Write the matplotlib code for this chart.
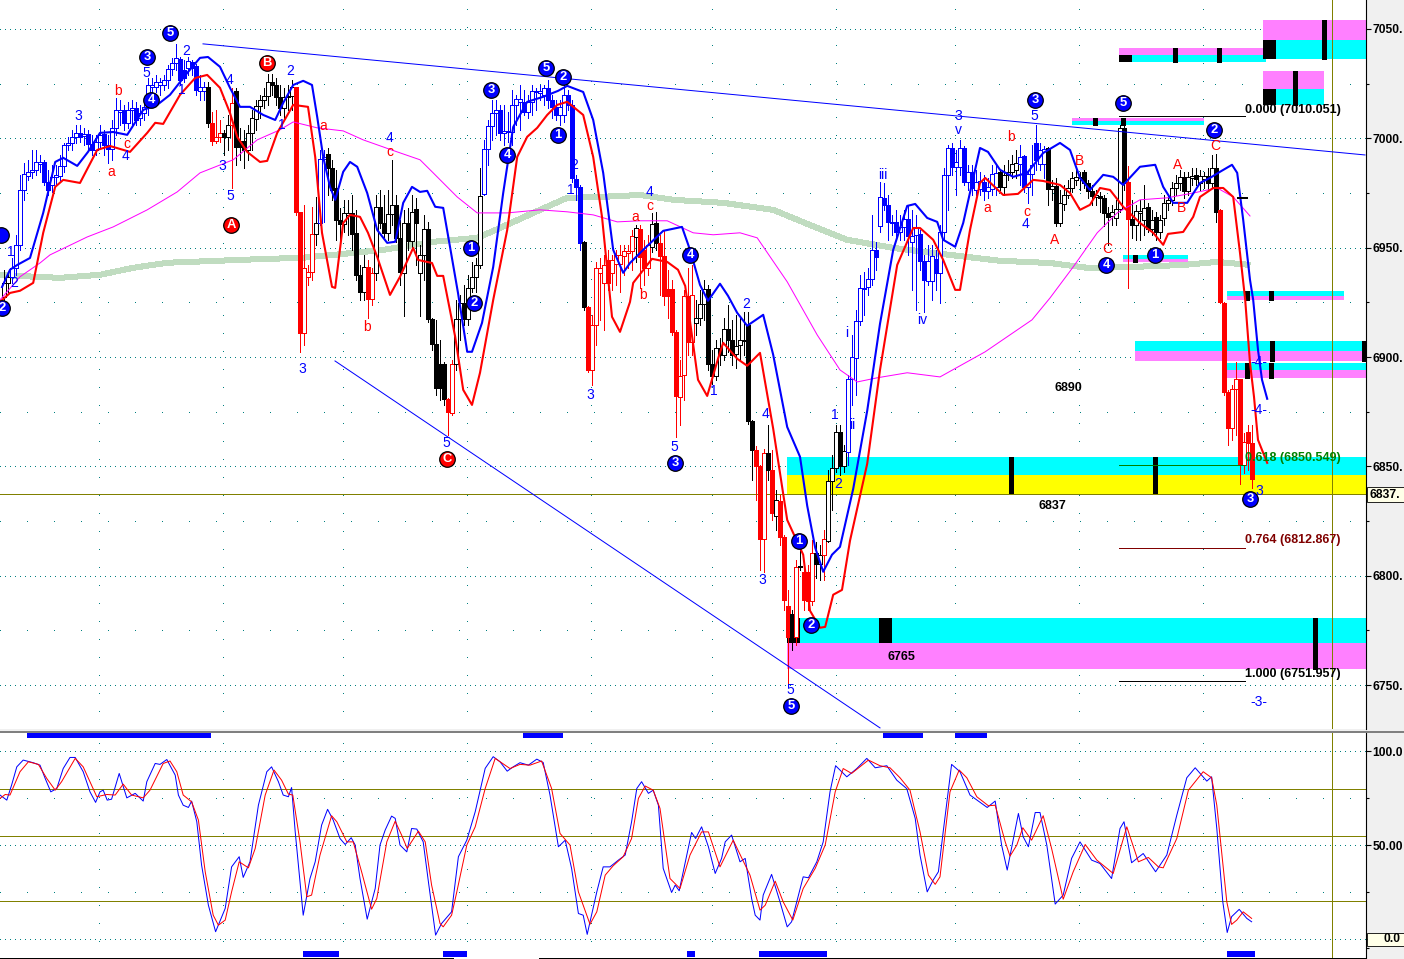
import matplotlib
matplotlib.use("Agg")
import matplotlib.pyplot as plt
from matplotlib.lines import Line2D
from matplotlib.patches import Rectangle

W, H = 1404, 959
plt.rcParams['font.family'] = ['Liberation Sans', 'DejaVu Sans']

# ---- candle data (price) ----
body_top = [
6933.9,6936.7,6940.8,6951.3,6976.4,6983.7,6984.7,6985.6,6989.2,6989.2,
6989.2,6980.1,6982.4,6983.3,6987.4,6997.0,6997.9,7000.7,7002.5,7002.5,
7002.0,7002.0,6997.5,6998.4,7001.6,7002.0,6997.0,7004.8,7013.0,7013.0,
7013.0,7013.0,7013.9,7013.9,7011.6,7014.4,7024.4,7024.4,7025.8,7025.8,
7026.7,7031.8,7034.5,7036.8,7036.3,7031.3,7035.4,7035.0,7033.1,7023.5,
7023.5,7023.5,7007.1,7000.7,7002.5,7002.5,7006.2,7016.2,7021.7,6998.8,
6998.8,7002.5,7009.3,7014.8,7017.6,7019.4,7025.8,7025.8,7024.4,7019.0,
7019.0,7019.4,7023.5,7023.5,6966.4,6940.8,6938.9,6956.3,6961.3,6990.6,
6991.5,6992.9,6986.5,6977.3,6962.7,6965.9,6965.9,6965.9,6956.8,6937.6,
6941.2,6941.2,6938.5,6968.7,6968.7,6961.3,6965.5,6969.6,6969.6,6954.5,
6961.3,6961.3,6966.4,6967.7,6946.7,6958.6,6958.6,6917.4,6906.0,6896.9,
6896.9,6880.9,6896.9,6917.4,6924.8,6924.8,6931.6,6936.7,6942.1,6973.7,
6995.2,7005.7,7011.6,7013.0,7013.0,7003.4,7003.4,7015.3,7018.0,7018.0,
7016.7,7016.7,7021.7,7021.7,7021.7,7023.1,7023.1,7017.6,7014.4,7014.4,
7019.9,7019.9,7015.3,6981.5,6977.8,6952.7,6922.9,6914.7,6940.8,6940.8,
6942.1,6944.4,6944.4,6946.7,6946.7,6948.5,6948.5,6955.4,6959.0,6958.6,
6949.0,6951.3,6960.9,6961.3,6952.2,6946.3,6931.2,6931.2,6911.5,6891.4,
6928.0,6928.0,6928.4,6917.9,6924.3,6931.2,6931.2,6896.9,6904.2,6904.2,
6912.9,6912.9,6907.9,6905.1,6907.9,6907.9,6914.7,6870.8,6857.5,6850.2,
6856.2,6856.2,6848.4,6834.7,6834.2,6817.8,6786.2,6782.6,6804.0,6804.5,
6801.8,6801.8,6810.5,6810.5,6809.6,6816.9,6843.4,6849.3,6865.8,6865.8,
6857.1,6890.0,6900.1,6916.5,6931.6,6931.6,6935.7,6949.0,6949.0,6973.2,
6972.8,6969.6,6961.8,6961.8,6959.5,6963.2,6963.2,6955.4,6959.0,6956.3,
6944.0,6944.0,6946.3,6944.9,6957.2,6983.3,6995.6,6995.6,6989.2,6995.6,
6995.6,6984.7,6984.7,6980.1,6980.5,6980.1,6977.8,6983.7,6984.2,6984.7,
6983.3,6984.7,6988.3,6988.8,6991.5,6992.0,6983.7,6987.9,6997.9,6994.7,
6995.2,6995.6,6978.3,6978.3,6970.5,6974.1,6977.3,6981.9,6982.4,6982.4,
6984.7,6979.6,6976.0,6974.1,6973.7,6972.8,6965.9,6966.4,6967.7,7004.8,
7004.8,6980.1,6963.2,6966.8,6966.8,6968.2,6968.7,6962.7,6964.1,6962.7,
6970.5,6971.9,6977.3,6979.6,6982.4,6982.4,6982.4,6982.8,6983.3,6982.8,
6982.8,6982.8,6986.5,6986.5,6967.3,6924.8,6884.1,6885.4,6890.0,6890.0,
6861.2,6865.8,6860.8]
body_bottom = [
6927.5,6933.9,6936.7,6940.8,6951.3,6976.4,6982.8,6984.7,6985.6,6988.3,
6980.1,6976.4,6978.7,6982.4,6982.8,6987.4,6997.0,6997.9,7000.7,7000.7,
7001.1,6997.5,6994.7,6994.7,6998.4,6997.0,6995.2,6995.2,7004.8,7012.1,
7007.1,7007.1,7013.0,7008.4,7009.3,7011.6,7014.4,7023.5,7023.5,7024.4,
7024.4,7026.7,7031.8,7034.5,7026.7,7027.6,7032.2,7032.2,7022.2,7021.7,
7021.7,7007.1,6998.8,6998.8,7000.7,7000.7,7000.7,7006.2,6996.1,6996.1,
6994.7,6994.7,7002.5,7008.9,7014.8,7017.6,7019.4,7024.4,7019.0,7013.9,
7013.9,7019.0,7019.4,6966.4,6911.0,6911.0,6936.7,6938.9,6956.3,6961.3,
6990.6,6986.5,6976.4,6962.7,6960.9,6960.9,6965.0,6956.3,6937.6,6929.8,
6929.8,6926.6,6926.6,6938.5,6961.3,6956.8,6956.8,6965.5,6954.5,6938.9,
6938.5,6953.1,6953.1,6961.3,6938.5,6946.7,6917.4,6906.0,6885.9,6885.9,
6880.9,6874.9,6874.5,6896.9,6917.4,6917.4,6917.4,6931.6,6936.7,6942.1,
6974.6,6995.2,7005.7,7011.6,7002.5,7002.5,7003.0,7003.0,7015.3,7016.7,
7012.1,7012.1,7016.7,7021.2,7020.8,7019.9,7017.6,7014.4,7010.7,7010.7,
7010.7,7015.3,6981.9,6977.8,6952.2,6922.9,6894.1,6894.1,6914.7,6938.5,
6933.9,6933.9,6938.5,6942.6,6942.6,6946.3,6947.6,6948.5,6954.9,6945.8,
6940.8,6940.8,6950.4,6952.2,6946.3,6928.0,6928.0,6911.5,6882.2,6881.8,
6891.8,6906.9,6906.9,6915.6,6917.9,6924.3,6896.9,6891.4,6891.4,6901.0,
6901.0,6907.9,6901.0,6901.4,6905.6,6907.4,6870.8,6857.5,6850.2,6816.9,
6816.9,6848.4,6828.8,6827.4,6817.8,6789.0,6772.1,6772.1,6772.1,6804.0,
6789.0,6788.5,6788.5,6805.4,6805.4,6809.6,6816.0,6843.4,6849.3,6850.2,
6850.2,6856.6,6890.0,6899.6,6916.5,6931.2,6932.1,6935.7,6945.8,6960.0,
6969.6,6961.8,6961.3,6957.2,6957.2,6959.5,6955.4,6952.7,6955.9,6944.0,
6935.3,6934.8,6934.8,6938.5,6938.5,6957.2,6983.3,6987.0,6987.0,6987.0,
6980.1,6980.1,6977.3,6976.4,6976.9,6976.0,6976.0,6976.9,6977.8,6977.8,
6977.8,6983.3,6984.7,6985.6,6988.3,6977.8,6977.8,6983.7,6990.1,6988.3,
6988.3,6976.9,6976.9,6961.3,6961.3,6970.0,6974.1,6977.3,6981.0,6981.9,
6979.6,6976.0,6973.7,6973.2,6972.8,6965.9,6964.1,6964.5,6963.6,6967.7,
6979.6,6963.2,6960.4,6960.4,6965.9,6962.7,6958.6,6958.6,6957.2,6957.2,
6963.6,6970.5,6971.9,6977.3,6979.6,6976.0,6976.0,6981.9,6981.5,6979.6,
6981.5,6979.6,6979.6,6966.4,6925.2,6884.1,6867.6,6867.6,6885.4,6850.7,
6850.7,6860.8,6844.3]
highs = [
6939.9,6938.9,6945.3,6955.9,6983.3,6988.8,6990.2,6994.7,6994.7,6992.4,
6990.2,6985.6,6987.9,6987.9,6992.4,6997.9,7000.7,7003.9,7006.2,7006.2,
7004.8,7003.9,7001.6,7001.6,7006.2,7003.9,7001.6,7008.4,7018.5,7017.6,
7015.3,7016.7,7017.6,7016.7,7015.3,7018.5,7027.6,7027.6,7029.0,7027.6,
7029.0,7033.6,7036.8,7043.2,7037.2,7035.9,7037.2,7035.9,7034.0,7029.0,
7025.8,7025.8,7012.1,7013.0,7008.4,7003.9,7010.7,7023.1,7023.1,7004.8,
7003.9,7006.2,7013.0,7017.6,7019.9,7023.1,7029.5,7029.5,7027.6,7024.4,
7023.1,7024.4,7026.7,7023.5,6966.4,6969.6,6942.1,6968.7,6973.2,6994.7,
6994.7,6995.6,6990.2,6985.6,6968.2,6971.9,6971.9,6974.1,6967.3,6942.1,
6946.7,6944.4,6940.8,6974.1,6976.4,6974.1,6976.4,6990.2,6974.1,6962.7,
6967.3,6968.2,6974.1,6972.8,6951.3,6965.0,6961.8,6917.9,6917.0,6907.9,
6897.8,6881.3,6898.7,6926.1,6928.4,6933.0,6937.6,6943.5,6945.3,6986.5,
6999.3,7008.4,7017.6,7017.6,7015.3,7015.3,7012.1,7022.2,7019.9,7024.4,
7022.2,7019.9,7024.4,7023.1,7024.4,7024.4,7026.7,7019.9,7017.6,7017.6,
7024.4,7022.2,7017.6,6983.3,6978.7,6953.1,6923.4,6919.3,6943.5,6945.3,
6946.7,6949.0,6946.7,6949.0,6951.3,6951.3,6951.3,6958.1,6960.4,6960.4,
6953.6,6955.9,6965.9,6966.4,6955.9,6958.1,6939.9,6935.3,6912.4,6898.7,
6930.7,6940.8,6942.1,6926.1,6930.7,6935.3,6933.0,6903.3,6907.8,6908.8,
6917.9,6923.8,6917.0,6919.3,6917.9,6920.6,6920.6,6871.3,6859.4,6850.7,
6858.0,6869.0,6857.5,6839.3,6837.0,6818.7,6793.5,6784.4,6807.3,6811.8,
6805.0,6805.0,6816.4,6815.5,6814.1,6821.0,6848.4,6855.3,6869.0,6869.0,
6859.8,6891.8,6910.1,6921.6,6937.6,6938.9,6940.8,6965.0,6952.7,6980.1,
6979.6,6974.1,6965.0,6967.3,6965.0,6967.3,6969.6,6967.3,6965.0,6958.1,
6946.7,6951.3,6951.3,6949.0,6960.4,6986.5,6997.0,6997.9,6994.7,6999.3,
6996.5,6987.9,6987.9,6985.6,6984.7,6983.3,6981.9,6987.9,6987.9,6985.6,
6987.9,6990.2,6992.4,6994.7,6997.0,6992.4,6985.6,6997.0,7006.2,6997.9,
6996.5,6996.1,6981.0,6981.9,6976.4,6978.7,6981.0,6984.7,6986.5,6984.7,
6985.6,6981.0,6978.7,6976.4,6975.5,6974.1,6968.7,6969.6,6971.9,7006.2,
7009.3,6987.4,6971.9,6969.6,6971.9,6978.7,6970.5,6967.3,6966.4,6965.0,
6974.1,6974.1,6980.1,6983.3,6985.6,6984.7,6984.7,6986.5,6986.5,6985.6,
6984.7,6986.5,6992.4,6992.9,6967.7,6925.2,6885.0,6887.3,6897.8,6890.0,
6865.3,6869.0,6869.0]
lows = [
6926.1,6929.8,6933.9,6937.6,6949.0,6971.9,6981.0,6981.9,6983.3,6984.7,
6978.7,6974.1,6975.5,6978.7,6981.0,6984.7,6994.7,6994.7,6997.9,6998.4,
6997.0,6994.7,6992.4,6992.4,6995.6,6992.4,6988.8,6990.2,7001.6,7006.2,
7003.9,7004.8,7006.2,7006.2,7006.2,7008.4,7010.7,7018.5,7021.2,7019.9,
7022.2,7023.1,7029.0,7031.3,7024.4,7025.8,7029.0,7029.0,7019.9,7017.6,
7017.6,7005.2,6997.0,6997.9,6998.4,6992.4,6994.7,6977.3,6987.9,6990.2,
6986.5,6990.2,6994.7,7003.9,7009.3,7013.9,7015.3,7019.9,7015.3,7010.7,
7009.3,7013.0,7013.0,6965.0,6902.4,6905.6,6933.0,6935.3,6951.3,6960.4,
6961.8,6974.1,6971.9,6953.6,6949.9,6957.2,6955.9,6949.0,6935.3,6926.1,
6926.1,6917.9,6923.8,6935.3,6959.0,6954.9,6953.6,6960.4,6952.7,6933.0,
6918.8,6949.0,6949.0,6942.1,6918.8,6935.3,6916.1,6903.3,6882.7,6880.4,
6878.1,6864.4,6873.6,6894.1,6907.8,6914.7,6914.7,6929.8,6929.8,6940.8,
6974.1,6987.9,6999.3,7001.6,6999.3,6997.0,6998.4,6997.0,7006.2,7003.9,
7010.7,7009.3,7010.7,7013.0,7017.6,7015.3,7013.9,7009.3,7008.4,7006.2,
7007.5,7013.0,6980.1,6971.9,6949.0,6921.6,6893.2,6887.3,6905.6,6917.0,
6912.4,6930.7,6930.7,6933.0,6929.8,6937.6,6940.8,6939.9,6943.5,6931.6,
6933.0,6937.6,6948.1,6949.0,6928.4,6923.8,6917.9,6910.1,6863.5,6869.0,
6880.4,6901.0,6901.0,6910.1,6914.7,6917.0,6894.1,6887.7,6889.6,6896.4,
6898.7,6902.4,6896.4,6895.0,6898.7,6901.0,6869.4,6843.8,6834.7,6802.7,
6801.8,6843.8,6825.5,6821.0,6814.1,6784.4,6751.0,6766.1,6768.4,6802.7,
6784.4,6784.4,6786.7,6799.0,6798.1,6798.1,6815.5,6830.1,6847.5,6846.1,
6847.5,6850.7,6878.1,6882.7,6914.7,6919.3,6928.4,6933.0,6939.9,6957.2,
6967.3,6953.6,6955.9,6953.6,6953.6,6953.6,6946.7,6930.7,6921.6,6939.9,
6920.6,6933.0,6926.1,6930.7,6924.8,6953.6,6967.3,6983.3,6974.1,6983.3,
6978.7,6976.4,6974.1,6974.1,6974.1,6971.9,6972.8,6974.1,6974.1,6976.4,
6974.1,6981.0,6981.9,6981.9,6978.7,6975.5,6970.5,6974.1,6985.6,6985.6,
6981.9,6969.6,6971.9,6960.0,6960.0,6967.3,6972.8,6975.5,6978.7,6976.4,
6977.3,6972.8,6969.6,6969.6,6966.4,6960.0,6951.3,6960.4,6960.4,6966.4,
6976.4,6931.6,6954.5,6953.6,6953.6,6955.9,6957.2,6955.9,6953.6,6954.5,
6960.4,6967.3,6969.6,6974.1,6976.4,6972.8,6974.1,6978.7,6978.7,6976.4,
6977.3,6976.4,6977.3,6961.8,6924.8,6882.7,6859.8,6862.1,6864.4,6842.0,
6847.0,6848.4,6840.2]
filled_bars = [11,12,20,22,23,26,27,31,34,45,46,48,49,52,53,56,59,60,61,68,69,70,
 74,75,82,83,84,85,88,89,90,92,95,96,99,100,102,104,107,108,109,110,111,112,116,
 125,131,137,138,139,142,143,144,145,146,147,152,160,161,164,165,166,167,168,169,
 172,177,178,180,182,183,187,188,189,190,192,193,195,196,197,198,201,202,204,210,
 219,221,222,223,224,227,230,231,234,238,241,243,246,250,256,259,262,264,271,272,
 273,275,276,277,281,282,283,287,289,296,299,302,304,305,306,307,310,312,313]
blue_runs = [(3,51),(80,81),(121,145),(212,249),(255,261)]
red_runs = [(53,55),(58,58),(74,78),(92,93),(112,113),(147,158),(160,162),(165,173),
 (189,191),(193,193),(195,197),(199,199),(201,203),(206,206),(282,282),(305,313)]

# ---- band indicators ----
upper_x = [0.5,2.5,4.3,7.5,10.8,13.8,15.8,19.3,22,25,28.3,31.8,35.8,39.3,42.5,46.8,50,52,55,57.5,60,62.5,65.8,68.8,70.8,73.3,75.8,78,79.3,80.8,82.5,83.8,85.8,87.5,89.3,91.8,94.3,96.8,98.8,100.8,103,105,106.8,108.8,110.8,112.5,114.5,116.8,118,120.5,123.3,125.8,128.3,131.8,135.8,139.5,141.8,145.8,148.3,150.8,153.3,155.8,157.5,160.8,165.8,170.5,172.5,175,177,180,182,184.3,186.8,190.8,193.3,196.8,200,201.8,203.8,205.8,208,210,213.3,216.8,220,223.3,226.8,228.8,231.8,234.3,235.8,238.8,240.8,245,247,250,253.3,256.8,260.8,265,267.5,270,272.5,275.8,278.3,280.8,285,288.8,290.8,293.3,296.8,300,302.5,305,308,309.3,310.8,312.5,313.3,314.5,315.5,316.8]
upper_y = [6932,6939.9,6942.1,6945.3,6965.9,6989.2,6991.1,6987.4,6993.8,7002.5,7002.9,7001.6,7013,7015.3,7019.9,7029.9,7036.8,7037.2,7032.7,7023.1,7014.4,7014.4,7010.7,7008.4,7016.2,7024.4,7026.3,7024.4,7009.8,6991.5,6977.8,6971.9,6984.7,6989.2,6987,6975,6958.1,6952.2,6952.7,6970.5,6977.8,6975.5,6976,6968.7,6968.2,6950.4,6929.3,6902.4,6902.4,6915.6,6941.2,6975,7005.2,7016.7,7019,7021.7,7024,7021.2,7008.4,6984.2,6949,6938.5,6943,6949,6957.7,6959.5,6949,6933,6925.7,6933.5,6928,6920.2,6914.3,6919.3,6901,6868,6854.4,6832,6812.8,6801.8,6809.6,6813.2,6839.7,6875.4,6915.2,6949,6969.1,6970,6963.6,6961.8,6953.6,6950.4,6961.3,6995.6,6993.8,6985.6,6982.4,6984.2,6993.3,6997.9,6994.7,6981.9,6976.4,6983.3,6982.4,6978.7,6987,6987.9,6977.8,6970.5,6970.5,6979.6,6981.9,6984.7,6987.9,6984.2,6962.7,6935.3,6926.1,6903.3,6889.6,6880.9]
lower_x = [0,2.5,5,8.3,10.8,13.8,15.8,20,24.3,27.5,32.5,36.8,38.8,40.8,45,48.8,51.8,55,57.5,59.3,61.8,65,66.8,69.3,73.3,77,78.8,80.5,83,83.8,85.8,87.5,90,92,94.3,97.5,100,103.3,104.5,108,109.3,110.8,113.8,115.8,118,120,123.3,126.8,129.3,131.8,134.3,136.8,139.3,141.8,145.8,148.3,150.5,153,155,157.5,158.3,163,166.8,169.5,171.3,174.5,176.8,179.5,180.8,184.3,186.8,190,193.3,196.8,200.8,202.5,205,206.3,208.3,210.5,212.5,216.8,220,224.3,228.3,230,233.3,235.8,238.8,240,242.5,245,246.3,250.8,254.5,258.3,260.8,265,267.5,270,272.5,275,277.5,280.8,285,288.3,290.8,292,295.8,298.3,300,303.3,305.8,308.3,310,311.3,312.5,313.5,314.5,316.8]
lower_y = [6925.2,6929.3,6930.3,6933.9,6956.8,6977.8,6981,6979.6,6994.7,6996.5,6993.8,7002.5,7007.1,7006.6,7019.9,7027.6,7029,7023.1,7011.6,7000.7,6993.8,6989.2,6989.7,7002.5,7015.3,7014.4,6991.5,6956.8,6932.1,6931.6,6961.3,6965,6964.1,6956.8,6945.8,6928.4,6936.7,6949.9,6944.4,6943,6937.1,6937.1,6909.2,6885,6878.1,6892.8,6926.1,6958.1,6991.5,7000.7,7004.8,7010.7,7015.3,7016.7,7010.7,6991.5,6964.1,6918.4,6911.5,6925.2,6933.9,6944.9,6943.5,6939.9,6932.5,6889.6,6882.2,6899.2,6906.5,6899.2,6896,6901.9,6867.2,6825.5,6809.6,6784,6776.2,6776.6,6791.3,6793.5,6816,6851.2,6894.1,6942.1,6959,6959,6953.6,6944.4,6930.7,6930.7,6958.1,6979.6,6981.9,6974.1,6974.6,6981,6980.5,6978.7,6975,6967.3,6969.6,6977.3,6976.4,6968.7,6961.3,6956.8,6951.3,6956.3,6957.2,6964.1,6973.2,6977.3,6977.3,6973.2,6947.6,6926.1,6897.3,6881.8,6862.1,6851.6]
magenta_x = [0,5,10,12.5,21.8,28.3,36.8,44.3,50,58.3,64.3,70,73.3,79.3,85.8,90.8,99.3,105,108.3,114.3,119.3,126.8,135,141.8,148.3,154.3,160,166.8,173.3,178.3,185,189.3,196.8,204.3,210,214.3,219.3,226.8,235,246.3,258,262.5,268.3,274.3,279.3,285,291.8,298.3,304.3,308.3,312.5]
magenta_y = [6926.1,6936.7,6943,6946.7,6954.9,6959.5,6967.3,6975.5,6984.2,6990.2,6999.3,7003.9,7007.5,7004.8,7003.4,6999.3,6993.8,6990.2,6984.2,6973.2,6965.9,6965.9,6967.3,6966.4,6965,6961.8,6962.3,6962.3,6956.8,6955.9,6956.8,6954.5,6934.4,6910.1,6894.1,6888.6,6890.5,6892.8,6890.9,6902.4,6917,6927,6941.2,6956.8,6965.9,6971.9,6972.8,6975,6977.3,6973.2,6964.5]
green_x = [0,4.3,15,25,33.3,41.8,54.3,66.8,75,83.3,95.8,108.3,119.3,125,133.3,141.8,150,160,168.3,180.8,193.3,201.8,211.8,223.3,233.3,250,262.5,271.8,283.3,295.8,304.3,312.5]
green_y = [6937.6,6937.1,6936.2,6937.6,6940.8,6943.1,6944,6944.9,6945.3,6946.7,6949,6952.7,6954.5,6959,6965.9,6972.8,6973.2,6974.1,6971.9,6970.5,6967.3,6960.9,6953.6,6949.9,6947.6,6944,6943,6940.8,6941.2,6942.1,6943.5,6942.1]

# ---- stochastic ----
k_x = [0,1.7,2.9,4.2,5.8,8.3,10,11.3,12.7,14.2,15.8,17.5,18.8,20.8,22.5,23.9,25,25.8,26.8,27.9,29.8,31.7,33.8,35.8,36.7,38.8,40,41.7,43.8,44.6,45.8,47.1,47.9,49.2,50.4,52.1,53.9,56.3,57.9,59.8,60.8,62.5,64.6,66.7,67.9,69.6,70.8,72.1,72.9,73.8,75,75.8,77.5,78.8,80.4,81.9,83.3,85,86.3,87.8,88.8,90,91.8,93.8,95,96.3,97.9,98.8,100,101.7,102.9,104.2,105.8,107.1,108.9,110.4,112.9,114.6,116.7,118.8,121.3,123.3,125,126.8,128.3,130,132.1,134.2,135.8,137.5,139.6,141.3,142.9,144.6,145.8,146.8,149.2,150.8,152.5,154.6,156.3,157.9,159.2,160.4,162.1,163.3,164.6,165.8,167.9,168.8,169.8,171.7,172.9,173.9,175.4,177.1,178.8,180.4,181.3,182.9,185,186.3,187.9,188.8,190,190.8,192.9,195,196.8,197.9,200.8,202.1,204.2,205.8,207.5,208.9,211.7,214.2,216.7,218.8,221.7,224.2,226.7,228.8,230,231.8,233.3,234.6,235.8,237.9,240,242.5,246.8,248.8,250.4,251.8,254.6,255.8,257.1,258.8,260,261.7,263.8,265.8,267.9,270,272.9,275,277.9,280,281,282.9,285.8,288.9,291.7,294.2,296.7,298.8,301.7,302.9,304.2,305.7,306.8,307.9,309.8,311.7,312.9]
k_y = [76.6,73.9,81.9,91.6,95.2,93.8,92.5,85.4,78.3,80.1,90.7,96.6,96.6,89,78.3,72.7,78.3,79.2,73.9,74.4,88.1,75.1,77.5,73.4,83.7,93.4,92.9,95.5,87.2,76.6,71.2,70,73.4,62.4,39.3,18,3.9,16.3,38.4,43.8,32.8,41.1,71.2,89,91.6,83.7,76.6,75.7,80.6,57.1,30.5,12.7,32.2,41.1,60.6,69,63.3,53.5,50.3,53.9,50,32.2,10.6,26.9,50,58,65.4,64.2,50,46.4,58.8,58.5,51.7,30.5,2.1,8.3,14.5,43.8,52.6,67.7,90.8,97,94.3,89.3,91.6,93.8,92.5,95.7,93.9,76.6,49.1,52.6,37.6,13.6,12.7,2.5,25.1,38.4,38.4,42,44.7,62.4,80.1,83.7,77.5,79.2,71.2,37.6,24.8,28.7,25.7,44.7,56.7,53.5,59.7,49.1,34.9,42.9,51.7,55.3,41.1,42.9,21.6,12.7,10.1,23.4,34.4,19.8,6.5,9.2,33.1,32.6,41.1,51.7,78.3,92.2,86.3,90.7,96.1,91.1,92.2,84.5,80,64.2,44.7,25.1,31.4,35.8,57.1,92.9,89,76.6,70,73.4,50,36.7,66.8,54.4,49.1,67.3,67.3,50,18.6,23.4,42.9,51.7,42,40.2,32.2,58.8,62.4,40.6,45.5,35.8,44.7,65.9,85.8,91.1,84,86.3,58.8,19.8,3.5,11.9,15.8,11,9.2]
d_x = [0,1.3,2.5,5,7.1,9.6,11.7,13.8,15.4,18.8,20.8,24.2,26.7,28.8,30.8,32.9,35.8,37.5,40.8,42.5,44.2,45.8,47.9,49.6,51.3,53.3,54.6,56.3,57.9,59.8,62.1,63.8,66.3,68.5,70.4,72.1,73.2,75,76.7,77.9,80,82.9,84.2,86.7,88.3,90.4,92.9,94.2,96.7,98.8,100.4,101.8,104.6,106.3,107.9,110,110.8,112.9,114.2,116.7,118.8,121.3,123.8,127.5,130,132.5,135.4,137.9,140,142.5,144.6,147.5,149.2,151.3,153.3,155.8,157.9,159.6,161.3,163.3,165,167.5,170,172.5,175.4,177.1,180,183.3,187.5,190,191.3,193.8,195.8,198.2,200.8,203.8,206.3,208.8,210.8,212.9,217.1,220,222.5,225,227.5,230,232.1,233.8,235,237.5,239.8,241.7,244.2,247.1,248.8,251.3,252.5,254.2,255.7,257.9,260.8,262.9,265.8,268.3,271.3,274.2,278.3,281.7,284.6,287.1,289.6,290.8,294.2,297.1,300.8,302.9,304.2,306.7,307.9,309.2,310.8,312.9]
d_y = [74.8,76.9,76.6,89,94.3,92.9,85.4,79.2,83.7,96.1,91.6,75.7,76.9,76.6,82.4,76.6,75.1,79.2,93.4,94.7,89,76.6,73,63.3,35.8,12.7,7.4,10.1,25.1,41.1,37.9,48.2,76.6,89.9,84.5,77.1,76.6,51.7,22.5,23.4,44.7,65.6,62.4,51.7,51.7,35.8,15.9,21.6,51.7,62.7,55.3,48.2,57.4,51.7,28.7,8.3,6.5,12.7,25.1,50,59.7,80.1,96.1,90.7,92.9,92.5,94.7,80.1,56.2,50,25.1,7.9,14.5,34,39,43.8,53.5,74.8,81.4,79.2,69.5,32.2,26.9,44.7,57,57,38.4,52.6,34,15.4,18,30.8,19.8,10.1,26.9,37.6,50,78.3,90.7,88.1,95.2,92.2,91.1,85.8,79.2,57.1,34,29.1,33.1,78.3,89.9,85.8,75.7,70.9,71.2,51.7,44.1,50,59.2,52.6,65.6,48.2,21.2,35.8,50.3,42,34.9,59.7,41.1,43.4,38.4,37.9,53.5,79.2,89,85.8,71.2,19.8,7.8,10.1,14.5,11]

# ---- supply / demand zones: start bar, end bar, top, middle, bottom ----
zones = [
 (315.75,341.5,7054.2,7045.0,7036.3,'#ff80ff','#00ffff',[330.9]),
 (279.75,316.5,7041.4,7038.2,7035.0,'#ff80ff','#00ffff',[293.75,304.75]),
 (315.75,331.0,7030.8,7022.6,7015.3,'#ff80ff','#00ffff',[323.75]),
 (268.0,301.0,7009.4,7008.0,7006.2,'#ff80ff','#00ffff',[273.75,280.75]),
 (280.75,297.0,6946.7,6945.0,6943.5,'#00ffff','#ff80ff',[283.75]),
 (306.75,336.0,6930.2,6928.0,6926.1,'#00ffff','#ff80ff',[311.75,317.75]),
 (283.75,341.5,6907.4,6902.8,6898.2,'#00ffff','#ff80ff',[318.0,341.0]),
 (306.75,341.5,6897.3,6894.1,6890.5,'#00ffff','#ff80ff',[311.75,317.75]),
 (196.75,341.5,6854.4,6846.1,6837.4,'#00ffff','#ffff00',[252.75,288.75]),
 (196.75,341.5,6780.7,6769.3,6757.4,'#00ffff','#ff80ff',[328.75]),
]
black_boxes = [(315.75,7045.0,7036.3),(279.75,7038.2,7035.0),(315.75,7022.6,7015.3),
               (196.75,6780.7,6769.3),(219.75,6780.7,6769.3)]
fib_levels = [7010.051,6850.549,6812.867,6751.957]
fib_colors = ['black','#008000','#800000','black']
fib_names = ['0.000 (7010.051)','0.618 (6850.549)','0.764 (6812.867)','1.000 (6751.957)']
fib_label_y = [110,458,540,674]
trend_a_x, trend_a_y = [50.75,341.25], [7043.2,6992.4]
trend_b_x, trend_b_y = [83.75,220.0], [6898.2,6730.4]
pivot_level = 6837.4
cursor_bar = 333.0
stoch_top_runs = [(6.75,52.75),(130.75,140.75),(220.75,230.75),(238.75,246.75)]
stoch_bot_runs = [(75.75,84.75),(110.75,116.75),(171.75,173.75),(189.75,206.75),(306.75,313.75)]

# ---- annotation text: label, x pixel, y pixel ----
blue_text = [("1",11,252),("2",14,283),("3",78,116),("4",126,156),("5",146,73),("2",186,51),
 ("1",182,90),("4",229,80),("1",282,125),("2",290,71),("3",222,166),("5",230,196),("3",302,369),
 ("4",390,138),("5",446,443),("3",590,395),("2",574,165),("1",571,190),("5",674,447),("4",649,192),
 ("1",714,391),("2",746,304),("4",766,414),("3",762,580),("5",790,690),("1",835,415),("2",838,484),
 ("i",847,333),("ii",852,425),("iii",883,175),("iv",922,320),("3",958,116),("v",958,130),("5",1034,116),
 ("4",1026,224),("3",1259,491),("-4-",1259,362),("-4-",1259,410),("-3-",1259,702)]
red_text = [("a",111,172),("b",118,91),("c",127,144),("a",323,126),("c",390,152),("b",367,327),
 ("a",635,217),("c",650,206),("b",643,295),("a",987,208),("b",1011,137),("c",1027,212),("A",1055,240),
 ("B",1079,161),("C",1107,249),("A",1178,165),("B",1182,208),("C",1215,146)]
blue_circles = [("",1,235),("2",2,308),("3",147,57),("5",170,33),("4",151,100),("1",471,248),("2",474,303),
 ("3",491,90),("4",507,155),("5",546,68),("2",563,77),("1",558,135),("4",690,255),("3",675,463),
 ("1",799,541),("2",811,625),("5",791,706),("3",1035,100),("5",1123,103),("2",1214,130),("4",1106,265),
 ("1",1155,255),("3",1250,499)]
red_circles = [("A",231,225),("B",267,63),("C",447,459)]
black_text = [("6890",1068,388),("6837",1052,506),("6765",901,657)]

BLUE, RED = '#0000ff', '#ff0000'
TEAL, OLIVE = '#008080', '#808000'
THIN = 0.45
SLOPED = {'lw': 0.72, 'antialiased': True}
plt.rcParams['lines.antialiased'] = False

fig = plt.figure(figsize=(W/100, H/100), dpi=100, facecolor='#f0f0f0')
ax = fig.add_axes([0, (H-729)/H, 1366/W, 729/H], facecolor='white')
ax2 = fig.add_axes([0, 0, 1366/W, (H-733)/H], facecolor='white')
for a in (ax, ax2):
    a.set_xlim(0, 341.5)
    for s in ('top', 'left', 'bottom'):
        a.spines[s].set_visible(False)
    a.spines['right'].set_linewidth(0.8)
    a.yaxis.tick_right()
    a.set_xticks([])
ax.set_ylim(6729.9, 7063.26)
ax2.set_ylim(-10.6, 109.6)

# grids
vgrid = [24.75,55.75,85.75,116.75,147.75,178,209,238.75,269.75,300.75]
DOT = {'lw': 0.72, 'color': TEAL, 'zorder': 0.5, 'dash_capstyle': 'butt'}
for v in (6750, 6800, 6850, 6900, 6950, 7000, 7050):
    ax.axhline(v, ls=(0, (1, 5)), **DOT)
for v in (6775, 6825, 6875, 6925, 6975, 7025):
    ax.axhline(v, ls=(0, (1, 27)), **DOT)
for v in (0, 50, 100):
    ax2.axhline(v, ls=(0, (1, 5)), **DOT)
for v in (25, 75):
    ax2.axhline(v, ls=(0, (1, 27)), **DOT)
for x in vgrid:
    ax.axvline(x, ls=(0, (1, 17)), **DOT)
    ax2.axvline(x, ls=(0, (1, 17)), **DOT)

# zones
for x0, x1, top, mid, bot, c1, c2, marks in zones:
    ax.add_patch(Rectangle((x0, mid), x1-x0, top-mid, fc=c1, ec='none', zorder=1, antialiased=False))
    ax.add_patch(Rectangle((x0, bot), x1-x0, mid-bot, fc=c2, ec='none', zorder=1, antialiased=False))
    ax.vlines(marks, bot, top, color='black', lw=2.2, zorder=1.5)
for x0, top, bot in black_boxes:
    ax.add_patch(Rectangle((x0, bot), 3.25, top-bot, fc='black', ec='none', zorder=1.5, antialiased=False))

# pivot & cursor
ax.axhline(pivot_level, color=OLIVE, lw=THIN, zorder=1.8)
ax.axvline(cursor_bar, color=OLIVE, lw=THIN, zorder=1.8)
ax2.axvline(cursor_bar, color=OLIVE, lw=THIN, zorder=1.8)

# green MA below candles
ax.plot(green_x, green_y, color='#c0dcc0', lw=3.6, zorder=2, solid_capstyle='butt')

# candles
n = len(body_top)
bars = list(range(1, n+1))
bar_col = ['black']*n
for a, b in blue_runs:
    for i in range(a, b+1):
        bar_col[i-1] = BLUE
for a, b in red_runs:
    for i in range(a, b+1):
        bar_col[i-1] = RED
solid = set(filled_bars)
ax.vlines(bars, lows, highs, colors=bar_col, lw=THIN, zorder=2.5, antialiased=False)
faces = [bar_col[i-1] if i in solid else 'white' for i in bars]
ax.bar(bars, [t-b for t, b in zip(body_top, body_bottom)], bottom=body_bottom, width=1.0,
       color=faces, edgecolor=bar_col, linewidth=THIN, zorder=2.6, antialiased=False)

# indicators
ax.plot(magenta_x, magenta_y, color='#ff00ff', zorder=3, **SLOPED)
ax.plot(upper_x, upper_y, color=BLUE, lw=1.5, zorder=3.2, antialiased=True)
ax.plot(lower_x, lower_y, color=RED, lw=1.5, zorder=3.3, antialiased=True)
ax.plot(trend_a_x, trend_a_y, color=BLUE, zorder=3.1, **SLOPED)
ax.plot(trend_b_x, trend_b_y, color=BLUE, zorder=3.1, **SLOPED)

# fib lines
for lev, col in zip(fib_levels, fib_colors):
    ax.plot([279.75, 311.25], [lev, lev], color=col, lw=THIN, zorder=3.4)
ax.plot([309.5, 311.75], [6972.5, 6972.5], color='black', lw=1.4, zorder=3.4)

# axis ticks
ax.set_yticks([6750, 6800, 6850, 6900, 6950, 7000, 7050])
ax.set_yticklabels(['6750.', '6800.', '6850.', '6900.', '6950.', '7000.', '7050.'],
                   fontweight='bold', fontsize=8.7)
ax.set_yticks([6775, 6825, 6875, 6925, 6975, 7025], minor=True)
ax.tick_params(axis='y', which='major', length=3.6, width=0.8, pad=1.2, direction='out')
ax.tick_params(axis='y', which='minor', length=2.2, width=0.8)

# stochastic
ax2.axhline(80, color=OLIVE, lw=THIN, zorder=1)
ax2.axhline(54.8, color=OLIVE, lw=THIN, zorder=1)
ax2.axhline(20, color=OLIVE, lw=THIN, zorder=1)
ax2.plot(k_x, k_y, color=BLUE, zorder=3, **SLOPED)
ax2.plot(d_x, d_y, color=RED, zorder=3.1, **SLOPED)
for a, b in stoch_top_runs:
    ax2.plot([a, b], [108.5, 108.5], color=BLUE, lw=2.9, zorder=2, solid_capstyle='butt')
for a, b in stoch_bot_runs:
    ax2.plot([a, b], [-8, -8], color=BLUE, lw=2.9, zorder=2, solid_capstyle='butt')
ax2.plot([0, 113.25], [-10.1, -10.1], color='black', lw=0.72, zorder=2, solid_capstyle='butt')
ax2.plot([134.75, 341.5], [-10.1, -10.1], color='black', lw=0.72, zorder=2, solid_capstyle='butt')
ax2.set_yticks([50, 100])
ax2.set_yticklabels(['50.00', '100.0'], fontweight='bold', fontsize=8.7)
ax2.set_yticks([25, 75, 0, -5], minor=True)
ax2.tick_params(axis='y', which='major', length=3.6, width=0.8, pad=1.2, direction='out')
ax2.tick_params(axis='y', which='minor', length=2.2, width=0.8)

# figure-level decorations in pixel positions
def fx(x): return x/W
def fy(y): return 1-y/H

fig.add_artist(Line2D([0, 1], [fy(731.5), fy(731.5)], color='#808080', lw=1.4))

def boxed(txt, y0, y1):
    fig.add_artist(Rectangle((fx(1367), fy(y1)), 37/W, (y1-y0)/H, transform=fig.transFigure,
                             fc='#ffffe8', ec='black', lw=0.6, zorder=5))
    fig.text(fx(1400), fy((y0+y1)/2), txt, ha='right', va='center', fontsize=8.7,
             fontweight='bold', color='black', zorder=6)
boxed('6837.', 487, 502)
boxed('0.0', 933, 946)

for t, x, y in blue_text:
    fig.text(fx(x), fy(y), t, color=BLUE, fontsize=10, ha='center', va='center', zorder=7)
for t, x, y in red_text:
    fig.text(fx(x), fy(y), t, color=RED, fontsize=10, ha='center', va='center', zorder=7)
for t, x, y in black_text:
    fig.text(fx(x), fy(y), t, color='black', fontsize=9, fontweight='bold', ha='center', va='center', zorder=7)

def circles(items, col):
    for t, x, y in items:
        fig.add_artist(Line2D([fx(x)], [fy(y)], marker='o', ms=11.2, mfc=col, mec='black', mew=0.9,
                              ls='none', antialiased=True, zorder=6))
        if t:
            fig.text(fx(x), fy(y), t, color='white', fontsize=9.4, fontweight='bold',
                     ha='center', va='center', zorder=7)
circles(blue_circles, BLUE)
circles(red_circles, RED)

for name, col, y in zip(fib_names, fib_colors, fib_label_y):
    fig.text(fx(1245), fy(y), name, color=col, fontsize=9, fontweight='bold', ha='left', va='center', zorder=7)

fig.savefig('out.png', dpi=100, facecolor=fig.get_facecolor())
